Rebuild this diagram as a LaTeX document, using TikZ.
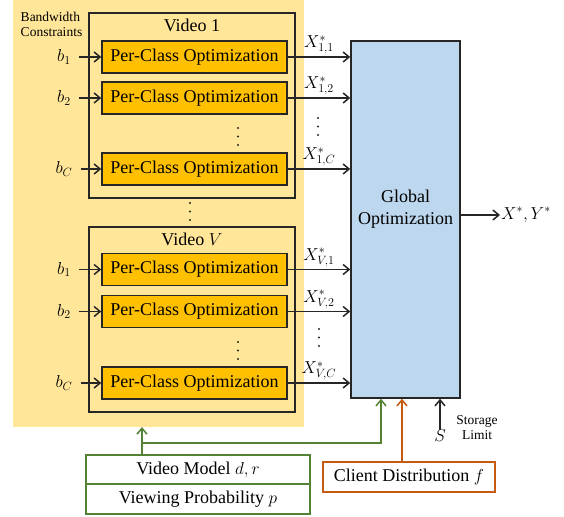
\documentclass[tikz,border=0pt]{standalone}
\usepackage{fontspec}
\setmainfont{Liberation Serif}
\usetikzlibrary{arrows.meta,calc}
\definecolor{bgyellow}{HTML}{FFE699}
\definecolor{pcgold}{HTML}{FFC000}
\definecolor{globblue}{HTML}{BDD7EE}
\definecolor{lgreen}{HTML}{548235}
\definecolor{lorange}{HTML}{C55A11}
\definecolor{ink}{HTML}{262626}
\begin{document}
\begin{tikzpicture}[x=1pt,y=-1pt,
  big/.style={font=\rmfamily\fontsize{18}{22}\selectfont},
  small/.style={font=\rmfamily\fontsize{13.5}{16}\selectfont},
  pc/.style={big,draw=ink,line width=1.5pt,fill=pcgold,minimum width=185pt,minimum height=32pt,inner sep=0pt},
  vbox/.style={draw=ink,line width=1.5pt,minimum width=206pt,minimum height=185pt,inner sep=0pt},
  tip/.style={-{Straight Barb[length=6pt,width=10pt,line width=1.5pt]}},
  arr/.style={draw=ink,line width=1.5pt,tip},
  garr/.style={draw=lgreen,line width=1.5pt,tip},
  oarr/.style={draw=lorange,line width=1.5pt,tip},
  lbl/.style={big,inner sep=1pt},
]
\useasboundingbox (0,0) rectangle (564,516);
% yellow panel behind the per-video blocks
\node[fill=bgyellow,minimum width=291pt,minimum height=427pt,inner sep=0pt] (bg) at (158.5,213.5) {};
\node[small,align=left,inner sep=0pt] (bwc) at (51.5,24.5) {Bandwidth\\[-1pt]Constraints};

% video blocks
\node[vbox] (v1) at (192,105.5) {};
\node[vbox] (vV) at (192,319.5) {};
\node[big] (v1t) at (192,25) {Video 1};
\node[big] (vVt) at (192,239) {Video $V$};

% per-class optimizers
\node[pc] (p11) at (194.5,57) {Per-Class Optimization};
\node[pc] (p12) at (194.5,98) {Per-Class Optimization};
\node[pc] (p1C) at (194.5,169) {Per-Class Optimization};
\node[pc] (pV1) at (194.5,269.5) {Per-Class Optimization};
\node[pc] (pV2) at (194.5,311.5) {Per-Class Optimization};
\node[pc] (pVC) at (194.5,383) {Per-Class Optimization};

% global optimizer
\node[draw=ink,line width=1.5pt,fill=globblue,minimum width=109pt,minimum height=357pt,inner sep=0pt] (glob) at (405.5,219.5) {};
\node[big,align=center] (globt) at (405.5,209) {Global\\Optimization};

% bandwidth inputs
\foreach \n/\y/\t in {b11/57/1, b12/98/2, b1C/169/C, bV1/269.5/1, bV2/311.5/2, bVC/383/C}{
  \node[lbl] (\n) at (64,\y) {$b_{\t}$};
}
\foreach \n/\p in {b11/p11, b12/p12, b1C/p1C, bV1/pV1, bV2/pV2, bVC/pVC}{
  \draw[arr,shorten <=7pt] (\n) -- (\p);
}

% per-class results into the global optimizer
\foreach \p/\t in {p11/{1,1}, p12/{1,2}, p1C/{1,C}, pV1/{V,1}, pV2/{V,2}, pVC/{V,C}}{
  \draw[arr] (\p.east) -- (\p.east -| glob.west) node[midway,above=1pt,lbl] {$X^*_{\t}$};
}

% vertical ellipses, drawn as three dots each
\foreach \x/\y in {238/128, 190/203, 238/342, 318/118, 319/329}{
  \foreach \k in {0,1,2}{
    \fill[ink] (\x,\y+8.5*\k) circle (1.2pt);
  }
}

% output
\coordinate (out) at (500,215);
\draw[arr] (glob.east |- out) -- (out);
\node[big,anchor=west,inner sep=1pt] (outt) at (out) {$X^*,Y^*$};

% inputs below
\node[big,draw=lgreen,line width=1.5pt,fill=white,minimum width=224pt,minimum height=29pt,inner sep=0pt] (vm) at (198,469.5) {Video Model $d,r$};
\node[big,draw=lgreen,line width=1.5pt,fill=white,minimum width=224pt,minimum height=30pt,inner sep=0pt] (vp) at (198,499) {Viewing Probability $p$};
\node[big,draw=lorange,line width=1.5pt,fill=white,minimum width=172pt,minimum height=30pt,inner sep=0pt] (cd) at (409,477) {Client Distribution $f$};

\coordinate (gtop) at (142,427);
\coordinate (gj) at (142,443);
\coordinate (gin) at ([xshift=-24.5pt]glob.south);
\coordinate (oin) at ([xshift=-3.5pt]glob.south);
\draw[garr] (vm.north -| gtop) -- (gtop);
\draw[garr] (gj) -| (gin);
\draw[oarr] (cd.north -| oin) -- (oin);

% storage limit
\node[big,inner sep=0pt] (S) at (440,436) {$S$};
\draw[arr] (S.north) -- (S.north |- glob.south);
\node[small,align=center,inner sep=0pt] (slt) at (477,428) {Storage\\[-1pt]Limit};
\end{tikzpicture}
\end{document}
